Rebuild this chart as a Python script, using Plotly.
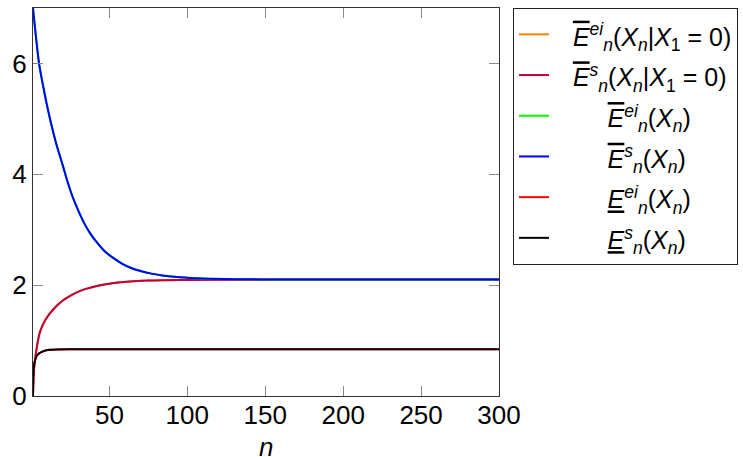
import plotly.graph_objects as go

# ---- data ----
n_upper = [1, 3, 5, 8, 10, 13, 16, 20, 23, 27, 30, 34, 38, 42, 47, 52, 58, 64, 70, 77, 85, 95, 110, 130, 160, 200, 250, 300]
upper_s = [7.0, 6.45, 5.98, 5.52, 5.24, 4.87, 4.54, 4.17, 3.88, 3.55, 3.35, 3.11, 2.92, 2.77, 2.61, 2.50, 2.39, 2.31, 2.256, 2.208, 2.171, 2.142, 2.119, 2.107, 2.102, 2.10, 2.10, 2.10]
upper_ei = list(upper_s)

n_cond = [1, 1.5, 2, 3, 4, 5.3, 7, 9, 11.7, 15, 18, 21.4, 26, 31, 36, 42, 50, 63, 75, 84, 100, 130, 170, 220, 300]
cond_s = [0.0, 0.42, 0.58, 0.80, 0.97, 1.139, 1.265, 1.374, 1.487, 1.593, 1.673, 1.747, 1.825, 1.891, 1.941, 1.986, 2.026, 2.064, 2.082, 2.089, 2.095, 2.099, 2.10, 2.10, 2.10]
cond_ei = list(cond_s)

n_lower = [1, 1.2, 1.5, 2, 3, 4, 5, 7, 9, 12, 16, 25, 50, 100, 200, 300]
lower_s = [0.0, 0.40, 0.52, 0.61, 0.70, 0.745, 0.77, 0.80, 0.82, 0.833, 0.84, 0.843, 0.843, 0.843, 0.843, 0.843]
lower_ei = list(lower_s)

x_ticks = [50, 100, 150, 200, 250, 300]
y_ticks = [0, 2, 4, 6]
x_title = "<i>n</i>"

FONT = "Liberation Sans"
OV = '<span style="text-decoration:overline"><i>E</i></span>'
UN = '<span style="text-decoration:underline"><i>E</i></span>'
NB = "\u00a0"
TH = "\u2009"
pad_long = NB * 2 + TH
pad_short = NB * 7 + TH


def wrap(s):
    return '<span style="font-size:25px">' + s + '</span>'


labels = [
    wrap(pad_long + OV + "<sup><i>ei</i></sup><sub><i>n</i></sub>(<i>X</i><sub><i>n</i></sub>|<i>X</i><sub>1</sub> = 0)"),
    wrap(pad_long + OV + "<sup><i>s</i></sup><sub><i>n</i></sub>(<i>X</i><sub><i>n</i></sub>|<i>X</i><sub>1</sub> = 0)"),
    wrap(pad_short + OV + "<sup><i>ei</i></sup><sub><i>n</i></sub>(<i>X</i><sub><i>n</i></sub>)"),
    wrap(pad_short + OV + "<sup><i>s</i></sup><sub><i>n</i></sub>(<i>X</i><sub><i>n</i></sub>)"),
    wrap(pad_short + UN + "<sup><i>ei</i></sup><sub><i>n</i></sub>(<i>X</i><sub><i>n</i></sub>)"),
    wrap(pad_short + UN + "<sup><i>s</i></sup><sub><i>n</i></sub>(<i>X</i><sub><i>n</i></sub>)"),
]

series = [
    (n_cond, cond_ei, "#FF8000"),
    (n_cond, cond_s, "#BF0040"),
    (n_upper, upper_ei, "#00FF00"),
    (n_upper, upper_s, "#0000FF"),
    (n_lower, lower_ei, "#FF0000"),
    (n_lower, lower_s, "#000000"),
]

fig = go.Figure()
for (xs, ys, col), lab in zip(series, labels):
    fig.add_trace(go.Scatter(x=xs, y=ys, mode="lines", name=lab,
                             line=dict(color=col, width=2, shape="spline", smoothing=0.9)))

axis_common = dict(ticks="inside", ticklen=10, tickwidth=1, tickcolor="#888888",
                   showline=True, linecolor="#333333", linewidth=1.2, mirror="ticks",
                   showgrid=False, zeroline=False,
                   tickfont=dict(family=FONT, size=26, color="black"))

fig.update_xaxes(range=[1, 300], tickvals=x_ticks, ticklabelstandoff=-4, **axis_common)
fig.update_yaxes(range=[0, 7], tickvals=y_ticks, **axis_common)

fig.add_annotation(text=x_title, xref="paper", yref="paper", x=0.5, y=-0.1327,
                   xanchor="center", yanchor="middle", showarrow=False,
                   font=dict(family=FONT, size=26, color="black"))

fig.update_layout(
    width=743, height=457,
    margin=dict(l=33, r=244, t=8, b=61, autoexpand=False),
    plot_bgcolor="white", paper_bgcolor="white",
    showlegend=True,
    legend=dict(x=1.03, y=1.0, xanchor="left", yanchor="top",
                bordercolor="#222222", borderwidth=1, bgcolor="white",
                font=dict(family=FONT, size=29, color="black"),
                tracegroupgap=0),
)

fig.write_html("out.html", config={"displayModeBar": False},
               post_script="document.body.style.margin='0';")
